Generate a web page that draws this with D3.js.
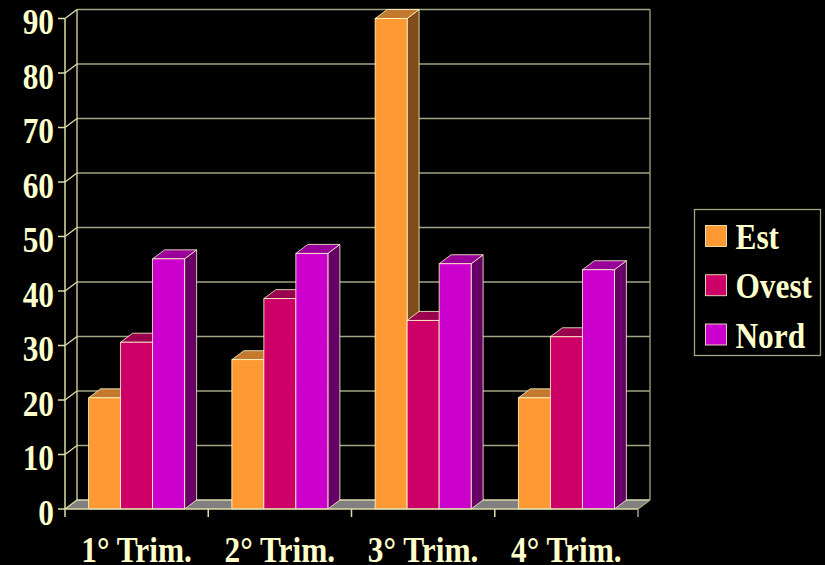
<!DOCTYPE html>
<html>
<head>
<meta charset="utf-8">
<script src="https://cdn.jsdelivr.net/npm/d3@7"></script>
<style>
html,body{margin:0;padding:0;background:#000;}
svg{display:block;}
</style>
</head>
<body>
<svg id="chart" width="825" height="565"></svg>
<script>
const categories = ["1° Trim.", "2° Trim.", "3° Trim.", "4° Trim."];
const seriesNames = ["Est", "Ovest", "Nord"];
const estValues = [20.4, 27.4, 90, 20.4];
const ovestValues = [30.6, 38.6, 34.6, 31.6];
const nordValues = [45.9, 46.9, 45, 43.9];
const yTicks = [0, 10, 20, 30, 40, 50, 60, 70, 80, 90];

const seriesValues = [estValues, ovestValues, nordValues];
const colors = {
  Est:   {front: "#FF9933", top: "#C47A2E", side: "#804D1A"},
  Ovest: {front: "#CC0066", top: "#99004D", side: "#660033"},
  Nord:  {front: "#CC00CC", top: "#990099", side: "#660066"}
};
const textColor = "#FFFFCC";
const axisColor = "#DDDDAA";
const gridColor = "#A3A383";
const edgeColor = "#FFFFCC";
const font = "'Liberation Serif','Times New Roman',serif";
const fontSize = 36, squeeze = 0.87;

const svg = d3.select("#chart");
const dx = 12, dy = -9;
const x0 = d3.scaleBand().domain(categories).range([65, 638]);
const x1 = d3.scaleBand().domain(seriesNames).range([0, x0.bandwidth()]).paddingOuter(0.738);
const y = d3.scaleLinear().domain([0, 90]).range([509, 18.5]);

function label(parent, tx, ty, str, anchor) {
  return parent.append("text")
    .attr("transform", `translate(${tx},${ty}) scale(${squeeze},1)`)
    .attr("text-anchor", anchor).attr("fill", textColor)
    .attr("font-family", font).attr("font-weight", "bold").attr("font-size", fontSize)
    .text(str);
}

const g = svg.append("g");

// floor
const fx0 = x0.range()[0], fx1 = x0.range()[1], fy = y(0);
g.append("path")
  .attr("d", `M${fx0},${fy}L${fx1},${fy}L${fx1+dx},${fy+dy}L${fx0+dx},${fy+dy}Z`)
  .attr("fill", "#808080").attr("stroke", "none");

// back wall grid
yTicks.forEach(t => {
  const yy = y(t);
  if (t > 0) {
    g.append("line").attr("x1", fx0+dx).attr("x2", fx1+dx).attr("y1", yy+dy).attr("y2", yy+dy)
      .attr("stroke", gridColor).attr("stroke-width", 1.3);
  }
  g.append("line").attr("x1", fx0).attr("x2", fx0+dx).attr("y1", yy).attr("y2", yy+dy)
    .attr("stroke", axisColor).attr("stroke-width", 1.3);
});
g.append("line").attr("x1", fx0+dx).attr("x2", fx0+dx).attr("y1", y(0)+dy).attr("y2", y(90)+dy)
  .attr("stroke", axisColor).attr("stroke-width", 1.3);
g.append("line").attr("x1", fx1+dx).attr("x2", fx1+dx).attr("y1", y(0)+dy).attr("y2", y(90)+dy)
  .attr("stroke", gridColor).attr("stroke-width", 1.3);
g.append("line").attr("x1", fx0+dx).attr("x2", fx1+dx).attr("y1", fy+dy).attr("y2", fy+dy)
  .attr("stroke", axisColor).attr("stroke-width", 1.3);
g.append("line").attr("x1", fx1).attr("x2", fx1+dx).attr("y1", fy).attr("y2", fy+dy)
  .attr("stroke", gridColor).attr("stroke-width", 1.3);

// bars
categories.forEach((c, ci) => {
  seriesNames.forEach((s, si) => {
    const v = seriesValues[si][ci];
    const bx = x0(c) + x1(s), bw = x1.bandwidth();
    const yt = y(v), yb = y(0);
    const col = colors[s];
    g.append("path")
      .attr("d", `M${bx+bw},${yt}L${bx+bw+dx},${yt+dy}L${bx+bw+dx},${yb+dy}L${bx+bw},${yb}Z`)
      .attr("fill", col.side).attr("stroke", edgeColor).attr("stroke-width", 0.8);
    g.append("path")
      .attr("d", `M${bx},${yt}L${bx+bw},${yt}L${bx+bw+dx},${yt+dy}L${bx+dx},${yt+dy}Z`)
      .attr("fill", col.top).attr("stroke", edgeColor).attr("stroke-width", 0.8);
    g.append("rect").attr("x", bx).attr("y", yt).attr("width", bw).attr("height", yb - yt)
      .attr("fill", col.front).attr("stroke", edgeColor).attr("stroke-width", 0.8);
  });
});

// front axes
g.append("line").attr("x1", fx0).attr("x2", fx0).attr("y1", y(90)).attr("y2", fy + 8)
  .attr("stroke", axisColor).attr("stroke-width", 1.5);
g.append("line").attr("x1", fx0).attr("x2", fx1).attr("y1", fy).attr("y2", fy)
  .attr("stroke", axisColor).attr("stroke-width", 1.5);
yTicks.forEach(t => {
  g.append("line").attr("x1", fx0 - 7).attr("x2", fx0).attr("y1", y(t)).attr("y2", y(t))
    .attr("stroke", axisColor).attr("stroke-width", 1.5);
  label(g, 54, y(t) + 15.5, t, "end");
});
categories.forEach((c, i) => {
  const xx = x0(c) + x0.bandwidth();
  g.append("line").attr("x1", xx).attr("x2", xx).attr("y1", fy).attr("y2", fy + 8)
    .attr("stroke", i === categories.length - 1 ? gridColor : axisColor).attr("stroke-width", 1.5);
  label(g, x0(c) + x0.bandwidth() / 2, 561.5, c, "middle");
});

// legend
const lg = svg.append("g");
lg.append("rect").attr("x", 694.5).attr("y", 209.5).attr("width", 126).attr("height", 146)
  .attr("fill", "#000").attr("stroke", gridColor).attr("stroke-width", 1.3);
const ly = d3.scalePoint().domain(seriesNames).range([236, 334.5]);
seriesNames.forEach(s => {
  lg.append("rect").attr("x", 705.5).attr("y", ly(s) - 10.5).attr("width", 21).attr("height", 21)
    .attr("fill", colors[s].front).attr("stroke", edgeColor).attr("stroke-width", 0.8);
  label(lg, 735.5, ly(s) + 13, s, "start");
});
</script>
</body>
</html>
